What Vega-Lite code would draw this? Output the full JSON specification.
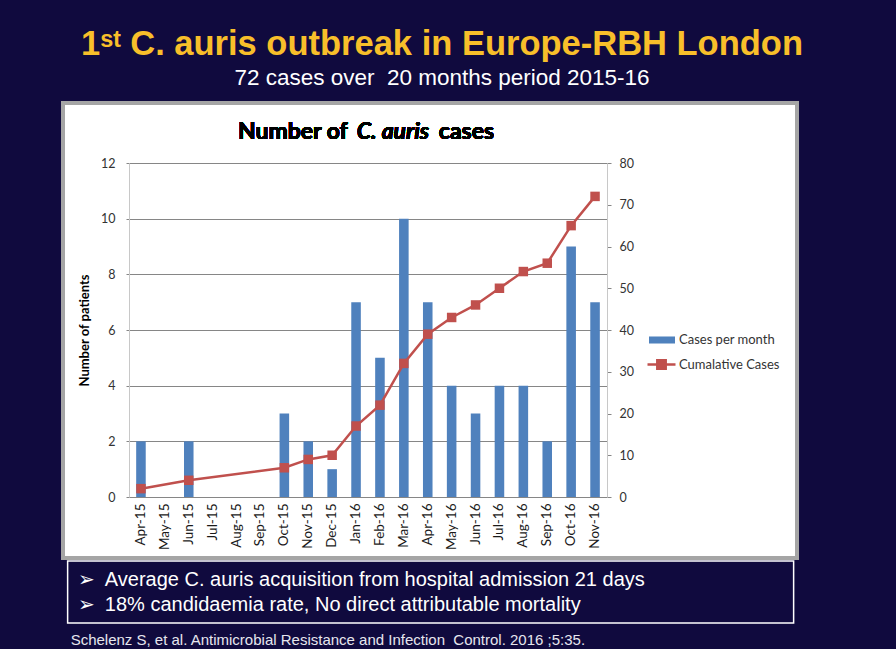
{
  "$schema": "https://vega.github.io/schema/vega-lite/v6.json",
  "background": "#100a3e",
  "autosize": {"type": "pad"},
  "padding": {"left": 61, "top": 27, "right": 97, "bottom": 4},
  "title": {
    "text": "1ˢᵗ C. auris outbreak in Europe-RBH London",
    "subtitle": "72 cases over\u00a0\u00a020 months period 2015-16",
    "anchor": "middle",
    "dx": 12,
    "offset": 11,
    "color": "#f8bf2a",
    "font": "Liberation Sans Narrow, Liberation Sans",
    "fontSize": 34.5,
    "fontWeight": "bold",
    "subtitleColor": "white",
    "subtitleFont": "Liberation Sans",
    "subtitleFontSize": 22.5,
    "subtitlePadding": 4
  },
  "spacing": 0,
  "center": true,
  "vconcat": [
    {
      "width": 734,
      "height": 455,
      "view": {"fill": "white", "stroke": "#a5a5a5", "strokeWidth": 4},
      "data": {
        "values": [
          {"month": "Apr-15", "cases": 2, "cum": 2},
          {"month": "May-15", "cases": 0, "cum": null},
          {"month": "Jun-15", "cases": 2, "cum": 4},
          {"month": "Jul-15", "cases": 0, "cum": null},
          {"month": "Aug-15", "cases": 0, "cum": null},
          {"month": "Sep-15", "cases": 0, "cum": null},
          {"month": "Oct-15", "cases": 3, "cum": 7},
          {"month": "Nov-15", "cases": 2, "cum": 9},
          {"month": "Dec-15", "cases": 1, "cum": 10},
          {"month": "Jan-16", "cases": 7, "cum": 17},
          {"month": "Feb-16", "cases": 5, "cum": 22},
          {"month": "Mar-16", "cases": 10, "cum": 32},
          {"month": "Apr-16", "cases": 7, "cum": 39},
          {"month": "May-16", "cases": 4, "cum": 43},
          {"month": "Jun-16", "cases": 3, "cum": 46},
          {"month": "Jul-16", "cases": 4, "cum": 50},
          {"month": "Aug-16", "cases": 4, "cum": 54},
          {"month": "Sep-16", "cases": 2, "cum": 56},
          {"month": "Oct-16", "cases": 9, "cum": 65},
          {"month": "Nov-16", "cases": 7, "cum": 72}
        ]
      },
      "layer": [
        {
          "layer": [
            {
              "mark": {"type": "bar"},
              "encoding": {
                "x": {
                  "field": "month",
                  "type": "ordinal",
                  "sort": null,
                  "scale": {"range": [66, 544], "paddingInner": 0.6, "paddingOuter": 0.3},
                  "axis": {
                    "orient": "bottom",
                    "offset": -61,
                    "title": null,
                    "labelAngle": -90,
                    "labelFont": "Lato",
                    "labelFontSize": 13.5,
                    "labelColor": "#1a1a1a",
                    "labelPadding": 6,
                    "ticks": false,
                    "domainColor": "#868686",
                    "domainWidth": 1
                  }
                },
                "y": {
                  "field": "cases",
                  "type": "quantitative",
                  "scale": {"domain": [0, 12], "range": [394, 60], "nice": false},
                  "axis": {
                    "orient": "left",
                    "offset": -66,
                    "values": [0, 2, 4, 6, 8, 10, 12],
                    "grid": true,
                    "gridColor": "#868686",
                    "gridWidth": 1,
                    "domainColor": "#c8c8c8",
                    "tickColor": "#868686",
                    "tickSize": 3,
                    "labelFont": "Lato",
                    "labelFontSize": 12.5,
                    "labelColor": "#333333",
                    "labelPadding": 11,
                    "title": "Number of patients",
                    "titleFont": "Lato",
                    "titleFontSize": 13,
                    "titleFontWeight": "bold",
                    "titleColor": "black",
                    "titlePadding": 9
                  }
                },
                "color": {
                  "datum": "Cases per month",
                  "type": "nominal",
                  "scale": {"range": ["#4f81bd"]},
                  "legend": {
                    "orient": "none",
                    "legendX": 586,
                    "legendY": 224,
                    "title": null,
                    "symbolType": "M-1,-0.27H1V0.27H-1Z",
                    "symbolSize": 676,
                    "symbolStrokeWidth": 0,
                    "symbolOpacity": 1,
                    "labelFont": "Lato",
                    "labelFontSize": 13,
                    "labelColor": "#333333",
                    "labelOffset": 4
                  }
                }
              }
            },
            {
              "mark": {"type": "text", "align": "right", "baseline": "alphabetic", "dx": -56, "font": "Lato", "fontSize": 23, "fontWeight": "bold", "color": "black"},
              "encoding": {
                "x": {"datum": "Mar-16", "type": "ordinal"},
                "y": {"datum": 12.86, "type": "quantitative"},
                "text": {"value": "Number of"}
              }
            },
            {
              "mark": {"type": "text", "align": "left", "baseline": "alphabetic", "dx": -47, "font": "Lato", "fontSize": 23, "fontWeight": "bold", "fontStyle": "italic", "color": "black"},
              "encoding": {
                "x": {"datum": "Mar-16", "type": "ordinal"},
                "y": {"datum": 12.86, "type": "quantitative"},
                "text": {"value": "C. auris"}
              }
            },
            {
              "mark": {"type": "text", "align": "left", "baseline": "alphabetic", "dx": 35, "font": "Lato", "fontSize": 23, "fontWeight": "bold", "color": "black"},
              "encoding": {
                "x": {"datum": "Mar-16", "type": "ordinal"},
                "y": {"datum": 12.86, "type": "quantitative"},
                "text": {"value": "cases"}
              }
            }
          ]
        },
        {
          "transform": [{"filter": "datum.cum != null"}],
          "layer": [
            {
              "mark": {"type": "line", "strokeWidth": 2.5},
              "encoding": {
                "x": {"field": "month", "type": "ordinal", "sort": null},
                "y": {
                  "field": "cum",
                  "type": "quantitative",
                  "scale": {"domain": [0, 80], "range": [394, 60], "nice": false},
                  "axis": {
                    "orient": "right",
                    "offset": -190,
                    "values": [0, 10, 20, 30, 40, 50, 60, 70, 80],
                    "grid": false,
                    "domainColor": "#c8c8c8",
                    "tickColor": "#868686",
                    "tickSize": 4,
                    "labelFont": "Lato",
                    "labelFontSize": 12.5,
                    "labelColor": "#333333",
                    "labelPadding": 8,
                    "title": null
                  }
                },
                "stroke": {
                  "datum": "Cumalative Cases",
                  "type": "nominal",
                  "scale": {"range": ["#c0504d"]},
                  "legend": {
                    "orient": "none",
                    "legendX": 583,
                    "legendY": 246,
                    "title": null,
                    "symbolType": "M-1,0H1M-0.3,-0.3H0.3V0.3H-0.3Z",
                    "symbolSize": 784,
                    "symbolStrokeWidth": 2.5,
                    "symbolFillColor": "#c0504d",
                    "labelFont": "Lato",
                    "labelFontSize": 13,
                    "labelColor": "#333333",
                    "labelOffset": 2
                  }
                }
              }
            },
            {
              "mark": {"type": "point", "shape": "square", "filled": true, "size": 90, "color": "#c0504d", "opacity": 1},
              "encoding": {
                "x": {"field": "month", "type": "ordinal", "sort": null},
                "y": {"field": "cum", "type": "quantitative"}
              }
            }
          ]
        }
      ],
      "resolve": {"scale": {"y": "independent"}}
    },
    {
      "width": 726,
      "height": 62,
      "view": {"fill": null, "stroke": "white", "strokeWidth": 1.5},
      "data": {"values": [{}]},
      "mark": {"type": "text"},
      "encoding": {},
      "title": {
        "text": ["\u200b\u00a0\u200a➢\u2002Average C. auris acquisition from hospital admission 21 days", "\u200b\u00a0\u200a➢\u200218% candidaemia rate, No direct attributable mortality"],
        "subtitle": "Schelenz S, et al. Antimicrobial Resistance and Infection\u00a0\u00a0Control. 2016 ;5:35.",
        "orient": "bottom",
        "anchor": "start",
        "dx": 3,
        "offset": -53,
        "color": "white",
        "font": "Liberation Sans",
        "fontSize": 20,
        "fontWeight": "normal",
        "lineHeight": 25,
        "subtitleColor": "#e6e6ee",
        "subtitleFont": "Liberation Sans Narrow, Liberation Sans",
        "subtitleFontSize": 15,
        "subtitlePadding": 18
      }
    }
  ]
}
